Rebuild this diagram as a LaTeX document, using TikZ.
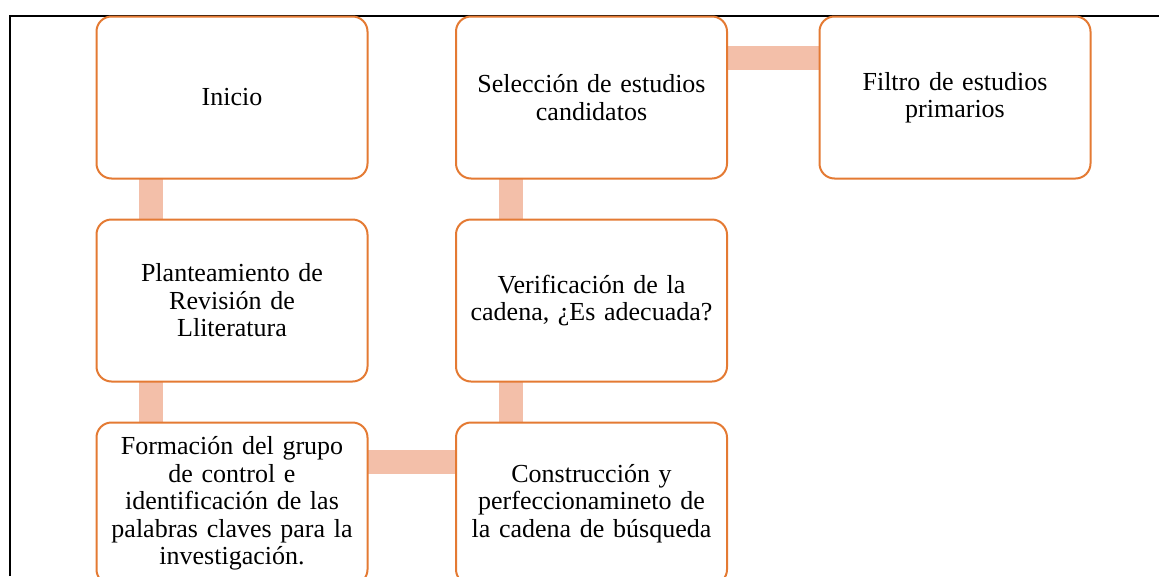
\documentclass[tikz,border=0pt]{standalone}
\usepackage{fontspec}
\setmainfont{Liberation Serif}
\definecolor{boxline}{HTML}{E47A33}
\definecolor{barfill}{HTML}{F3BFA9}
\begin{document}
\begin{tikzpicture}[x=1pt,y=-1pt,
    stage/.style={draw=boxline,line width=2pt,rounded corners=15pt,fill=white,
        minimum width=271pt,minimum height=162pt,align=center,text width=262pt,
        font=\fontsize{26}{27.5}\selectfont},
    bar/.style={draw=barfill,line width=24pt}]
        \useasboundingbox (0,0) rectangle (1159,576);
        \draw [line width=1.5pt] (10,576) -- (10,16) -- (1159,16);
        % connectors first, boxes on top
        \coordinate (c1a) at (151,178); \coordinate (c1b) at (151,220);
        \coordinate (c1c) at (151,382); \coordinate (c1d) at (151,423);
        \coordinate (c2a) at (511,178); \coordinate (c2b) at (511,220);
        \coordinate (c2c) at (511,382); \coordinate (c2d) at (511,423);
        \coordinate (r3a) at (367,462); \coordinate (r3b) at (456,462);
        \coordinate (r1a) at (727,57.5); \coordinate (r1b) at (819,57.5);
        \draw [bar] (c1a) -- (c1b);
        \draw [bar] (c1c) -- (c1d);
        \draw [bar] (r3a) -- (r3b);
        \draw [bar] (c2c) -- (c2d);
        \draw [bar] (c2a) -- (c2b);
        \draw [bar] (r1a) -- (r1b);
        \node [stage] (inicio) at (232,97.5) {Inicio};
        \node [stage] (plan) at (232,300.5) {Planteamiento de\\Revisión de\\Lliteratura};
        \node [stage] (grupo) at (232,503.5) {Formación del grupo\\de control e\\identificación de las\\palabras claves para la\\investigación.};
        \node [stage] (cadena) at (591.5,503.5) {Construcción y\\perfeccionamineto de\\la cadena de búsqueda};
        \node [stage] (verif) at (591.5,300.5) {Verificación de la\\cadena, ¿Es adecuada?};
        \node [stage] (selec) at (591.5,97.5) {Selección de estudios\\candidatos};
        \node [stage] (filtro) at (955,97.5) {Filtro de estudios\\primarios};
\end{tikzpicture}
\end{document}
